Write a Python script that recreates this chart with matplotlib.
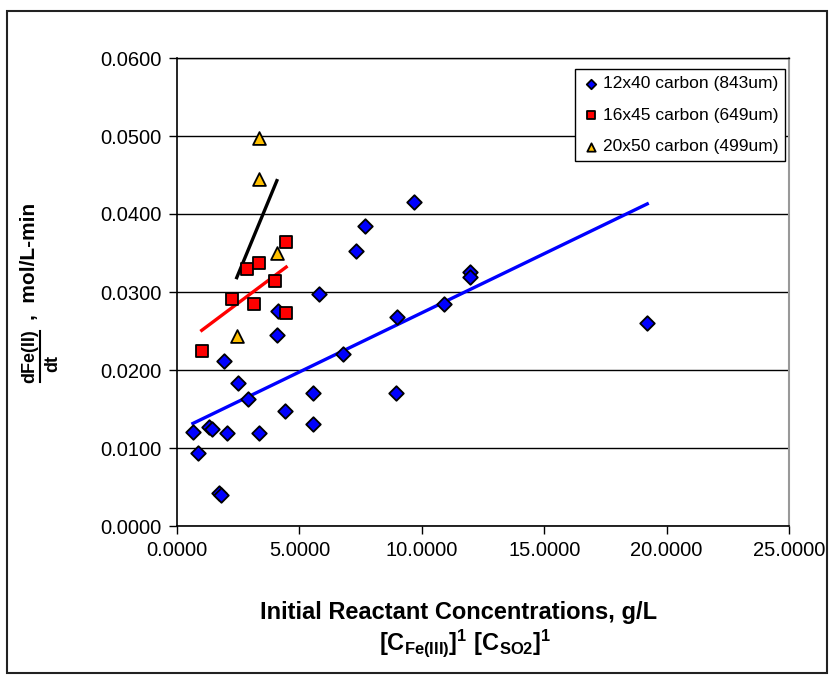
import matplotlib
matplotlib.use("Agg")
import matplotlib.pyplot as plt
import numpy as np
from matplotlib.patches import Rectangle
from matplotlib.lines import Line2D

plt.rcParams['font.family'] = ['Liberation Sans', 'DejaVu Sans']
plt.rcParams['mathtext.fontset'] = 'custom'
plt.rcParams['mathtext.rm'] = 'Liberation Sans:bold'
plt.rcParams['mathtext.bf'] = 'Liberation Sans:bold'
plt.rcParams['mathtext.it'] = 'Liberation Sans:bold'

# ---- data ----
blue_label = "12x40 carbon (843um)"
blue_x = [0.65, 0.86, 1.31, 1.44, 1.72, 1.78, 1.91, 2.05, 2.51, 2.89, 3.35, 4.08, 4.14,
          4.42, 5.55, 5.55, 6.79, 5.81, 7.32, 7.68, 9.67, 8.98, 8.94, 10.92, 11.98, 11.98, 19.21]
blue_y = [0.0121, 0.0094, 0.0127, 0.0124, 0.0042, 0.0040, 0.0212, 0.0119, 0.0183, 0.0163,
          0.0119, 0.0245, 0.0276, 0.0148, 0.0171, 0.0131, 0.0220, 0.0297, 0.0353, 0.0384,
          0.0415, 0.0268, 0.0171, 0.0284, 0.0326, 0.0319, 0.0260]

red_label = "16x45 carbon (649um)"
red_x = [1.01, 2.26, 2.86, 3.15, 3.33, 4.00, 4.46, 4.46]
red_y = [0.0225, 0.0291, 0.0329, 0.0284, 0.0337, 0.0314, 0.0364, 0.0273]

yellow_label = "20x50 carbon (499um)"
yellow_x = [2.44, 3.35, 3.35, 4.08]
yellow_y = [0.0244, 0.0497, 0.0445, 0.0350]

x_ticks = [0, 5, 10, 15, 20, 25]
y_ticks = [0.0, 0.01, 0.02, 0.03, 0.04, 0.05, 0.06]

W, H = 836, 681
fig = plt.figure(figsize=(W / 100, H / 100), dpi=100)
ax = fig.add_axes([177 / W, (H - 526) / H, (789 - 177) / W, (526 - 58) / H])

ax.set_xlim(0, 25)
ax.set_ylim(0, 0.06)
ax.set_xticks(x_ticks)
ax.set_yticks(y_ticks)
ax.set_xticklabels([f"{v:.4f}" for v in x_ticks], fontsize=14.5)
ax.set_yticklabels([f"{v:.4f}" for v in y_ticks], fontsize=14.5)
ax.tick_params(axis='both', direction='out', length=6, width=1, color='black', pad=5)
ax.yaxis.grid(True, color='black', linewidth=1)
ax.set_axisbelow(True)
for s in ['left', 'bottom']:
    ax.spines[s].set_color('black')
    ax.spines[s].set_linewidth(1.2)
ax.spines['top'].set_color('black')
ax.spines['top'].set_linewidth(1.0)
ax.spines['right'].set_color('#999999')
ax.spines['right'].set_linewidth(1.5)

def trend(xs, ys, color):
    xs = np.asarray(xs); ys = np.asarray(ys)
    m, b = np.polyfit(xs, ys, 1)
    xx = np.array([xs.min(), xs.max()])
    ax.plot(xx, m * xx + b, color=color, linewidth=2.4, zorder=2)

trend(blue_x, blue_y, '#0000FF')
trend(red_x, red_y, '#FF0000')
trend(yellow_x, yellow_y, '#000000')

ax.scatter(blue_x, blue_y, marker='D', s=55, facecolor='#0000FF', edgecolor='black',
           linewidth=1.3, zorder=3, label=blue_label)
ax.scatter(red_x, red_y, marker='s', s=75, facecolor='#FF0000', edgecolor='black',
           linewidth=1.3, zorder=3, label=red_label)
ax.scatter(yellow_x, yellow_y, marker='^', s=85, facecolor='#FFC000', edgecolor='black',
           linewidth=1.3, zorder=3, label=yellow_label)

leg = ax.legend(loc='upper left', bbox_to_anchor=(575 / W, 1 - 69 / H),
                bbox_transform=fig.transFigure, fontsize=12.5, frameon=True,
                fancybox=False, edgecolor='black', framealpha=1, borderpad=0.4,
                handletextpad=0.2, handlelength=1.0, labelspacing=0.95,
                markerscale=0.65, borderaxespad=0)
leg.get_frame().set_linewidth(1.0)

# x-axis title
fig.text(459 / W, 1 - 612 / H, "Initial Reactant Concentrations, g/L", fontsize=17,
         fontweight='bold', ha='center', va='center')
fig.text(465 / W, 1 - 643 / H, r"$\mathbf{[C_{Fe(III)}]^1\ [C_{SO2}]^1}$", fontsize=17,
         ha='center', va='center')

# y-axis title (fraction)
fig.text(30 / W, 1 - 356 / H, "dFe(II)", fontsize=13, fontweight='bold', rotation=90,
         ha='center', va='center')
fig.add_artist(Line2D([40 / W, 40 / W], [1 - 382 / H, 1 - 331 / H], color='black',
                      linewidth=1.5, transform=fig.transFigure))
fig.text(53 / W, 1 - 363 / H, "dt", fontsize=13, fontweight='bold', rotation=90,
         ha='center', va='center')
fig.text(30 / W, 1 - 261 / H, ",  mol/L-min", fontsize=15, fontweight='bold', rotation=90,
         ha='center', va='center')

# outer border
fig.add_artist(Rectangle((7 / W, 1 - 673 / H), (827 - 7) / W, (673 - 11) / H,
                         transform=fig.transFigure, fill=False, edgecolor='#222222',
                         linewidth=1.5))

fig.savefig("out.png", dpi=100)
